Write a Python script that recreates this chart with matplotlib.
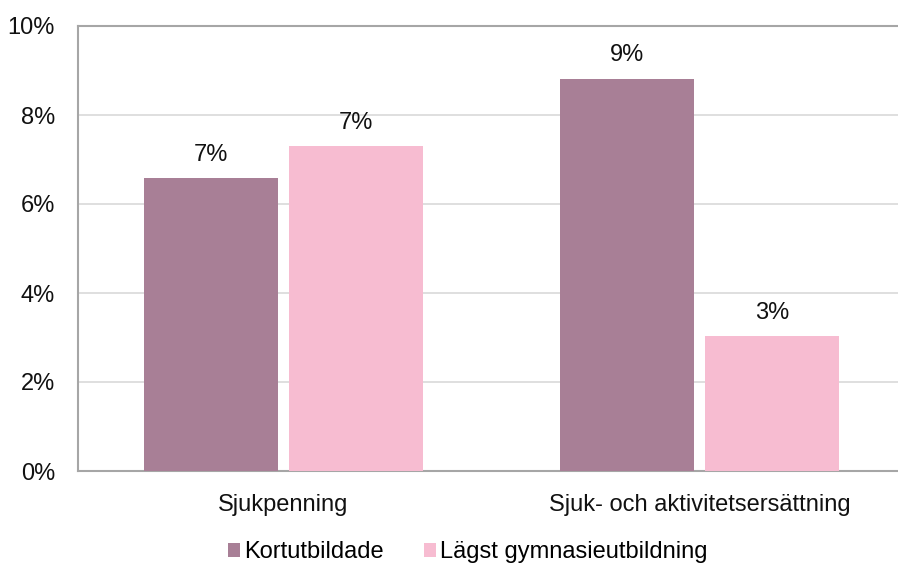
import matplotlib.pyplot as plt
import numpy as np

# data
categories = ['Sjukpenning', 'Sjuk- och aktivitetsersättning']
series_names = ['Kortutbildade', 'Lägst gymnasieutbildning']
kortutbildade = [6.58, 8.81]
lagst_gymnasie = [7.30, 3.03]
colors = ['#A87F96', '#F7BCD1']

plt.rcParams['font.family'] = ['Liberation Sans', 'DejaVu Sans']
fs = 17

fig = plt.figure(figsize=(8.98, 5.63), dpi=100)
ax = fig.add_axes([78 / 898, 92 / 563, 1 - 78 / 898, 445 / 563])

x = np.arange(len(categories))
w = 0.322
off = 0.174
b1 = ax.bar(x - off, kortutbildade, w, color=colors[0], label=series_names[0], zorder=3)
b2 = ax.bar(x + off, lagst_gymnasie, w, color=colors[1], label=series_names[1], zorder=3)

for bars in (b1, b2):
    for r in bars:
        h = r.get_height()
        ax.text(r.get_x() + r.get_width() / 2, h + 0.28, f'{h:.0f}%',
                ha='center', va='bottom', fontsize=fs, color='#111111')

ax.set_xlim(-0.494, 1.477)
ax.set_ylim(0, 10)
ax.set_yticks(range(0, 11, 2))
ax.set_yticklabels([f'{v}%' for v in range(0, 11, 2)], fontsize=fs)
ax.set_xticks(x)
ax.set_xticklabels(categories, fontsize=fs)
ax.tick_params(axis='both', length=0, colors='#111111')
ax.tick_params(axis='x', pad=16.5)
ax.tick_params(axis='y', pad=16.5)

ax.grid(axis='y', color='#D9D9D9', linewidth=1.2, zorder=0)
for s in ['left', 'bottom', 'top']:
    ax.spines[s].set_color('#A6A6A6')
    ax.spines[s].set_linewidth(1.5)
ax.spines['right'].set_visible(False)

fig.legend(loc='lower center', bbox_to_anchor=(0.521, -0.038), ncol=2, frameon=False,
           fontsize=fs, handlelength=0.5, handleheight=0.55, handletextpad=0.17,
           columnspacing=1.7)

fig.savefig('out.png', dpi=100)
